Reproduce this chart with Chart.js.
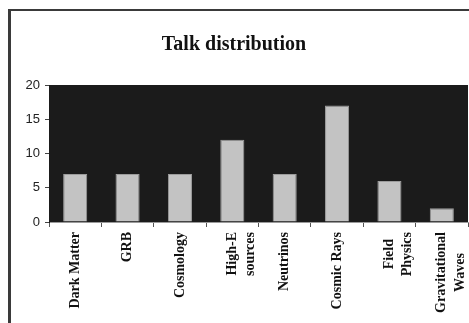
<!DOCTYPE html>
<html>
<head>
<meta charset="utf-8">
<title>Talk distribution</title>
<script src="https://cdn.jsdelivr.net/npm/chart.js@4/dist/chart.umd.min.js"></script>
<style>
  html, body { margin: 0; padding: 0; background: #ffffff; }
  #wrap { position: relative; width: 469px; height: 323px; }
</style>
</head>
<body>
<div id="wrap"><canvas id="chart" width="469" height="323"></canvas></div>
<script>
// Talk counts per topic
const chartTitle = 'Talk distribution';
const topics = [
  'Dark Matter',
  'GRB',
  'Cosmology',
  ['High-E', 'sources'],
  'Neutrinos',
  'Cosmic Rays',
  ['Field', 'Physics'],
  ['Gravitational', 'Waves']
];
const talks = [7, 7, 7, 12, 7, 17, 6, 2];
const yTicks = [0, 5, 10, 15, 20];

const labelFont = { family: '"Liberation Serif", "Times New Roman", serif', size: 14, weight: 'bold', lineHeight: 1.3 };

// Centre the lines of a two-line category label on each other by padding
// the shorter line with non-breaking spaces (labels are right-aligned when rotated).
const measureCtx = document.createElement('canvas').getContext('2d');
measureCtx.font = 'bold ' + labelFont.size + 'px ' + labelFont.family;
function centerLines(label) {
  if (!Array.isArray(label)) return label;
  const widths = label.map(s => measureCtx.measureText(s).width);
  const maxW = Math.max(...widths);
  const sp = measureCtx.measureText('\u00A0').width;
  return label.map((s, i) => s + '\u00A0'.repeat(Math.round((maxW - widths[i]) / 2 / sp)));
}

// Dark plot background and the frame lines along the top and left edges
const framePlugin = {
  id: 'frame',
  beforeDraw(chart) {
    const { ctx, chartArea: a } = chart;
    ctx.save();
    ctx.fillStyle = '#1b1b1b';
    ctx.fillRect(a.left, a.top, a.right - a.left, a.bottom - a.top);
    ctx.fillStyle = '#3a3a3a';
    ctx.fillRect(8, 9, chart.width - 8, 2);
    ctx.fillRect(8, 9, 3, chart.height - 9);
    ctx.restore();
  }
};

new Chart(document.getElementById('chart'), {
  type: 'bar',
  data: {
    labels: topics,
    datasets: [{
      data: talks,
      backgroundColor: '#c3c3c3',
      borderColor: '#9c9c9c',
      borderWidth: 1,
      barPercentage: 0.46,
      categoryPercentage: 1
    }]
  },
  options: {
    responsive: false,
    animation: false,
    layout: { padding: { left: 0, right: 1, top: 0, bottom: 0 } },
    plugins: {
      legend: { display: false },
      tooltip: { enabled: false },
      title: {
        display: true,
        text: chartTitle,
        color: '#111111',
        font: { family: '"Liberation Serif", "Times New Roman", serif', size: 20, weight: 'bold', lineHeight: 1.2 },
        padding: { top: 33, bottom: 28 }
      }
    },
    scales: {
      x: {
        offset: true,
        grid: {
          display: true,
          drawOnChartArea: false,
          drawTicks: true,
          tickLength: 5,
          offset: true,
          color: '#555555'
        },
        border: { display: true, color: '#9a9a9a', width: 1 },
        ticks: {
          autoSkip: false,
          minRotation: 90,
          maxRotation: 90,
          crossAlign: 'center',
          padding: 5,
          color: '#111111',
          font: labelFont,
          callback(value) { return centerLines(this.getLabelForValue(value)); }
        },
        afterFit(scale) {
          scale.height = 101;
          scale.paddingLeft = 0;
          scale.paddingRight = 0;
        }
      },
      y: {
        min: yTicks[0],
        max: yTicks[yTicks.length - 1],
        afterBuildTicks(scale) { scale.ticks = yTicks.map(v => ({ value: v })); },
        grid: {
          display: true,
          drawOnChartArea: false,
          drawTicks: true,
          tickLength: 4,
          color: '#444444'
        },
        border: { display: true, color: '#1b1b1b', width: 1 },
        ticks: {
          padding: 5,
          color: '#222222',
          font: { family: '"Liberation Sans", Arial, sans-serif', size: 13 }
        },
        afterFit(scale) { scale.width = 49; }
      }
    }
  },
  plugins: [framePlugin]
});
</script>
</body>
</html>
